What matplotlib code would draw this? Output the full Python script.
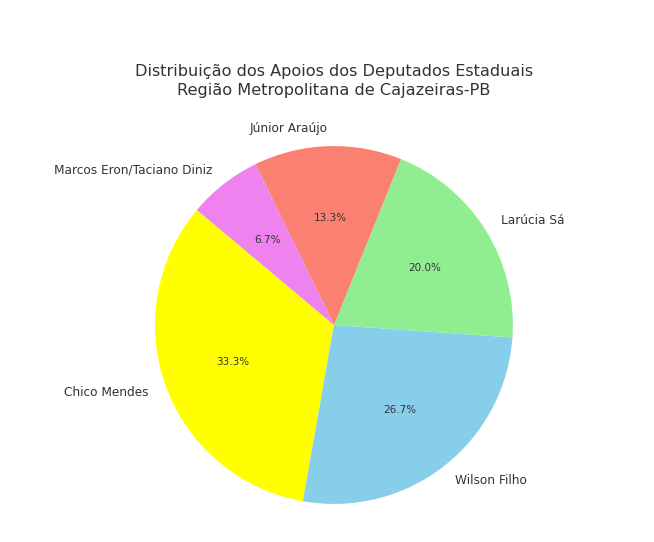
import matplotlib.pyplot as plt

# Support counts per deputy (shares of 15)
deputados = ["Chico Mendes", "Wilson Filho", "Larúcia Sá", "Júnior Araújo",
             "Marcos Eron/Taciano Diniz"]
apoios = [5, 4, 3, 2, 1]
cores = ["yellow", "skyblue", "lightgreen", "salmon", "violet"]

fig = plt.figure(figsize=(6.54, 5.42), dpi=100)
ax = fig.add_axes([0.1686, -0.0125, 0.684, 0.8257])

_, labels, pcts = ax.pie(apoios, labels=deputados, colors=cores,
                         autopct="%1.1f%%", startangle=140,
                         textprops={"color": "#333333", "fontsize": 8.7})
for t in pcts:
    t.set_fontsize(7.5)

ax.set_title("Distribuição dos Apoios dos Deputados Estaduais\n"
             "Região Metropolitana de Cajazeiras-PB",
             fontsize=11.6, color="#333333", pad=4.5, linespacing=1.3)

fig.savefig("out.png", dpi=100)
